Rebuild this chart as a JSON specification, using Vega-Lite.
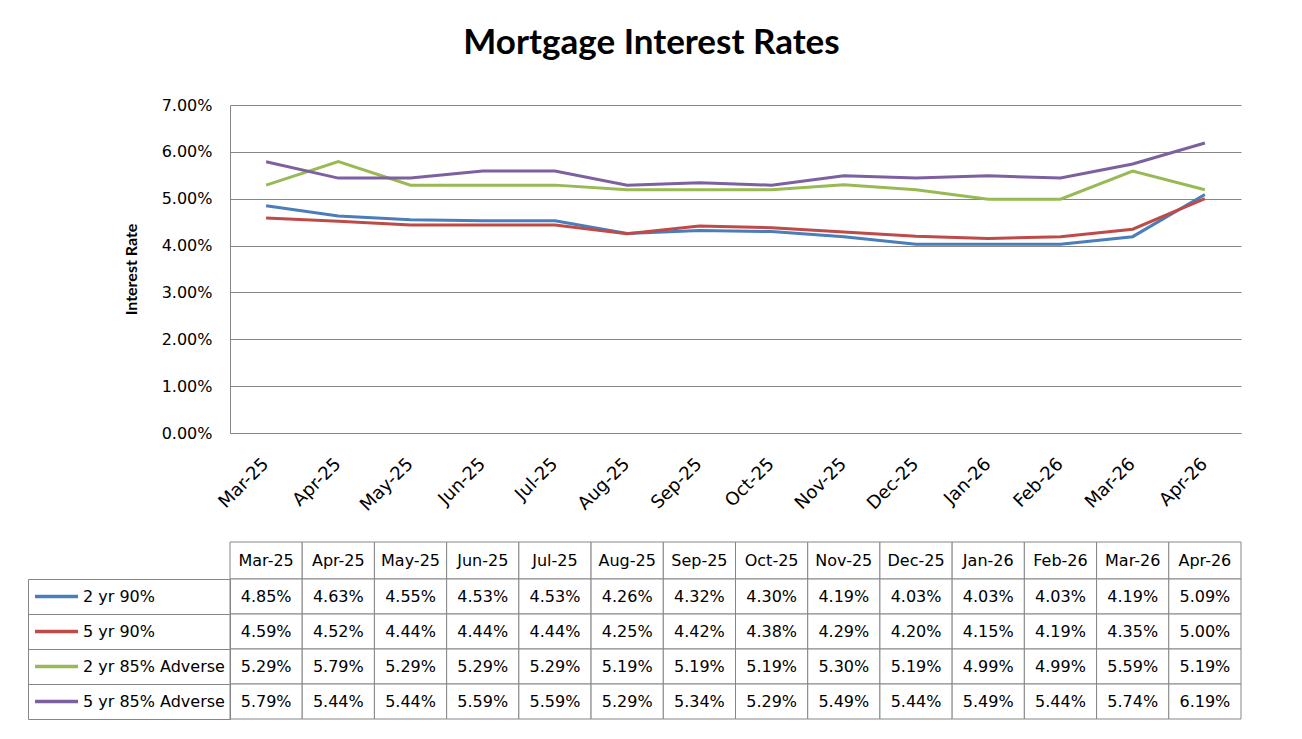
{
  "$schema": "https://vega.github.io/schema/vega-lite/v6.json",
  "background": "white",
  "padding": {"left": 27, "top": 26, "right": 5, "bottom": 5},
  "bounds": "flush",
  "title": {"text": "Mortgage Interest Rates", "font": "Lato", "fontSize": 35, "fontWeight": "bold", "color": "black", "anchor": "middle", "offset": 36, "dx": 17},
  "config": {
    "view": {"stroke": null},
    "font": "DejaVu Sans",
    "axis": {"labelFont": "DejaVu Sans", "labelFontSize": 16, "labelColor": "black", "domainColor": "#868686", "gridColor": "#868686"}
  },
  "datasets": {
    "rates": [
      {"month": "Mar-25", "series": "2 yr 90%", "rate": 0.0485},
      {"month": "Apr-25", "series": "2 yr 90%", "rate": 0.0463},
      {"month": "May-25", "series": "2 yr 90%", "rate": 0.0455},
      {"month": "Jun-25", "series": "2 yr 90%", "rate": 0.0453},
      {"month": "Jul-25", "series": "2 yr 90%", "rate": 0.0453},
      {"month": "Aug-25", "series": "2 yr 90%", "rate": 0.0426},
      {"month": "Sep-25", "series": "2 yr 90%", "rate": 0.0432},
      {"month": "Oct-25", "series": "2 yr 90%", "rate": 0.0430},
      {"month": "Nov-25", "series": "2 yr 90%", "rate": 0.0419},
      {"month": "Dec-25", "series": "2 yr 90%", "rate": 0.0403},
      {"month": "Jan-26", "series": "2 yr 90%", "rate": 0.0403},
      {"month": "Feb-26", "series": "2 yr 90%", "rate": 0.0403},
      {"month": "Mar-26", "series": "2 yr 90%", "rate": 0.0419},
      {"month": "Apr-26", "series": "2 yr 90%", "rate": 0.0509},
      {"month": "Mar-25", "series": "5 yr 90%", "rate": 0.0459},
      {"month": "Apr-25", "series": "5 yr 90%", "rate": 0.0452},
      {"month": "May-25", "series": "5 yr 90%", "rate": 0.0444},
      {"month": "Jun-25", "series": "5 yr 90%", "rate": 0.0444},
      {"month": "Jul-25", "series": "5 yr 90%", "rate": 0.0444},
      {"month": "Aug-25", "series": "5 yr 90%", "rate": 0.0425},
      {"month": "Sep-25", "series": "5 yr 90%", "rate": 0.0442},
      {"month": "Oct-25", "series": "5 yr 90%", "rate": 0.0438},
      {"month": "Nov-25", "series": "5 yr 90%", "rate": 0.0429},
      {"month": "Dec-25", "series": "5 yr 90%", "rate": 0.0420},
      {"month": "Jan-26", "series": "5 yr 90%", "rate": 0.0415},
      {"month": "Feb-26", "series": "5 yr 90%", "rate": 0.0419},
      {"month": "Mar-26", "series": "5 yr 90%", "rate": 0.0435},
      {"month": "Apr-26", "series": "5 yr 90%", "rate": 0.0500},
      {"month": "Mar-25", "series": "2 yr 85% Adverse", "rate": 0.0529},
      {"month": "Apr-25", "series": "2 yr 85% Adverse", "rate": 0.0579},
      {"month": "May-25", "series": "2 yr 85% Adverse", "rate": 0.0529},
      {"month": "Jun-25", "series": "2 yr 85% Adverse", "rate": 0.0529},
      {"month": "Jul-25", "series": "2 yr 85% Adverse", "rate": 0.0529},
      {"month": "Aug-25", "series": "2 yr 85% Adverse", "rate": 0.0519},
      {"month": "Sep-25", "series": "2 yr 85% Adverse", "rate": 0.0519},
      {"month": "Oct-25", "series": "2 yr 85% Adverse", "rate": 0.0519},
      {"month": "Nov-25", "series": "2 yr 85% Adverse", "rate": 0.0530},
      {"month": "Dec-25", "series": "2 yr 85% Adverse", "rate": 0.0519},
      {"month": "Jan-26", "series": "2 yr 85% Adverse", "rate": 0.0499},
      {"month": "Feb-26", "series": "2 yr 85% Adverse", "rate": 0.0499},
      {"month": "Mar-26", "series": "2 yr 85% Adverse", "rate": 0.0559},
      {"month": "Apr-26", "series": "2 yr 85% Adverse", "rate": 0.0519},
      {"month": "Mar-25", "series": "5 yr 85% Adverse", "rate": 0.0579},
      {"month": "Apr-25", "series": "5 yr 85% Adverse", "rate": 0.0544},
      {"month": "May-25", "series": "5 yr 85% Adverse", "rate": 0.0544},
      {"month": "Jun-25", "series": "5 yr 85% Adverse", "rate": 0.0559},
      {"month": "Jul-25", "series": "5 yr 85% Adverse", "rate": 0.0559},
      {"month": "Aug-25", "series": "5 yr 85% Adverse", "rate": 0.0529},
      {"month": "Sep-25", "series": "5 yr 85% Adverse", "rate": 0.0534},
      {"month": "Oct-25", "series": "5 yr 85% Adverse", "rate": 0.0529},
      {"month": "Nov-25", "series": "5 yr 85% Adverse", "rate": 0.0549},
      {"month": "Dec-25", "series": "5 yr 85% Adverse", "rate": 0.0544},
      {"month": "Jan-26", "series": "5 yr 85% Adverse", "rate": 0.0549},
      {"month": "Feb-26", "series": "5 yr 85% Adverse", "rate": 0.0544},
      {"month": "Mar-26", "series": "5 yr 85% Adverse", "rate": 0.0574},
      {"month": "Apr-26", "series": "5 yr 85% Adverse", "rate": 0.0619}
    ]
  },
  "resolve": {"scale": {"color": "independent", "x": "independent", "y": "independent"}},
  "spacing": 109,
  "vconcat": [
    {
      "width": 1011,
      "height": 328,
      "data": {"name": "rates"},
      "mark": {"type": "line", "strokeWidth": 3},
      "encoding": {
        "x": {"field": "month", "type": "ordinal", "sort": null, "scale": {"type": "band", "paddingInner": 0, "paddingOuter": 0},
              "axis": {"title": null, "labelAngle": -45, "labelAlign": "right", "labelBaseline": "middle", "labelPadding": 28, "labelFontSize": 18, "ticks": false, "grid": false, "domain": true}},
        "y": {"field": "rate", "type": "quantitative", "scale": {"domain": [0, 0.07], "nice": false, "zero": true},
              "axis": {"title": "Interest Rate", "titleFont": "Lato", "titleFontSize": 16, "titleFontWeight": "bold", "titleColor": "black", "titlePadding": 22,
                       "values": [0, 0.01, 0.02, 0.03, 0.04, 0.05, 0.06, 0.07], "format": ".2%", "ticks": false, "labelPadding": 18, "grid": true, "domain": true}},
        "color": {"field": "series", "type": "nominal",
                  "scale": {"domain": ["2 yr 90%", "5 yr 90%", "2 yr 85% Adverse", "5 yr 85% Adverse"], "range": ["#4A7EBB", "#BE4B48", "#98B954", "#7D60A0"]},
                  "legend": {"title": null, "orient": "none", "legendX": -197, "legendY": 474, "direction": "vertical", "padding": 0,
                             "symbolType": "stroke", "symbolSize": 1849, "symbolStrokeWidth": 3.5, "clipHeight": 35, "rowPadding": 0,
                             "labelFont": "DejaVu Sans", "labelFontSize": 16, "labelColor": "black", "labelOffset": 3}}
      }
    },
    {
      "spacing": 0,
      "bounds": "flush",
      "vconcat": [
        {
          "width": 1011,
          "height": 37,
          "data": {"name": "rates"},
          "transform": [{"filter": "datum.series === '2 yr 90%'"}],
          "encoding": {
            "x": {"field": "month", "type": "ordinal", "sort": null, "scale": {"type": "band", "paddingInner": 0, "paddingOuter": 0}, "axis": null}
          },
          "layer": [
            {"mark": {"type": "rect", "fill": "white", "stroke": "#868686", "strokeWidth": 1}},
            {"mark": {"type": "text", "font": "DejaVu Sans", "fontSize": 16, "color": "black", "align": "center", "baseline": "middle"},
             "encoding": {"text": {"field": "month"}}}
          ]
        },
        {
          "width": 1011,
          "height": 140,
          "data": {"name": "rates"},
          "encoding": {
            "x": {"field": "month", "type": "ordinal", "sort": null, "scale": {"type": "band", "paddingInner": 0, "paddingOuter": 0}, "axis": null}
          },
          "layer": [
            {"mark": {"type": "rect", "fill": "white", "stroke": "#868686", "strokeWidth": 1},
             "encoding": {"y": {"field": "series", "type": "nominal", "sort": null, "scale": {"type": "band", "paddingInner": 0, "paddingOuter": 0},
                                "axis": {"title": null, "labels": false, "ticks": true, "tickBand": "extent", "tickSize": 202, "tickColor": "#868686", "domain": true, "domainColor": "#868686", "grid": false}}}},
            {"mark": {"type": "text", "font": "DejaVu Sans", "fontSize": 16, "color": "black", "align": "center", "baseline": "middle"},
             "encoding": {"y": {"field": "series", "type": "nominal", "sort": null,
                                "axis": {"title": null, "orient": "left", "offset": 202, "labels": false, "ticks": false, "domain": true, "domainColor": "#868686", "grid": false}},
                          "text": {"field": "rate", "type": "quantitative", "format": ".2%"}}}
          ],
          "resolve": {"axis": {"y": "independent"}}
        }
      ]
    }
  ]
}
